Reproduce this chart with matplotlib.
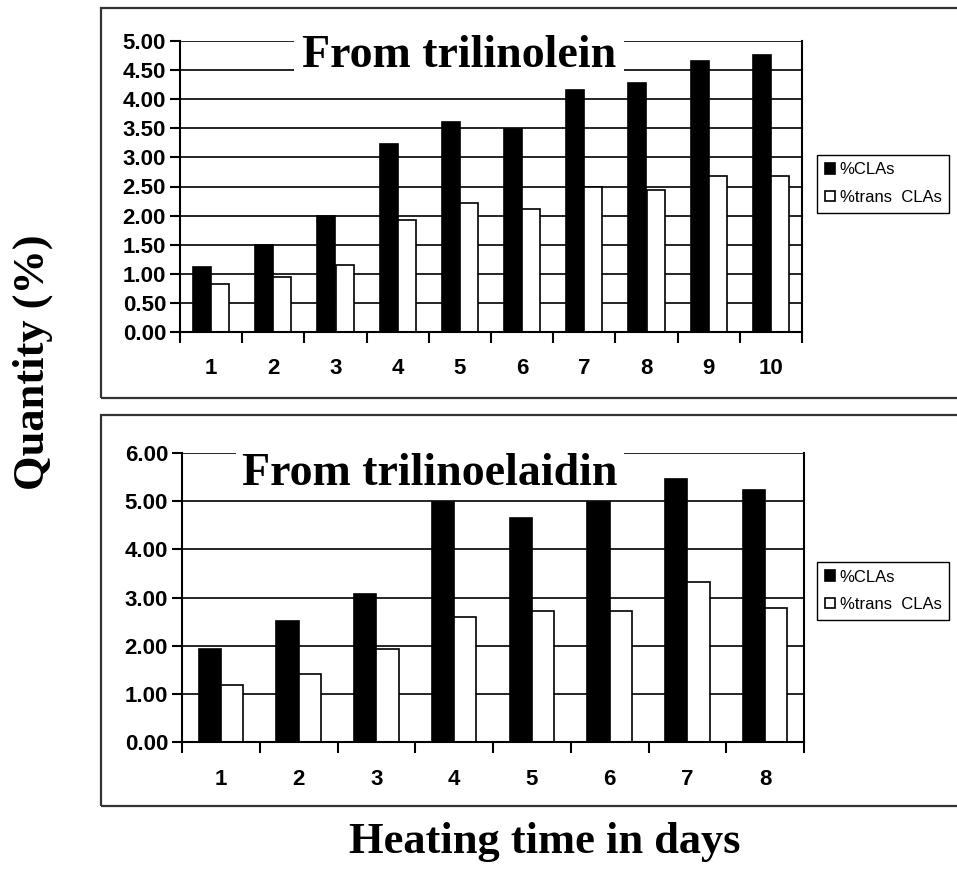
import matplotlib.pyplot as plt
from matplotlib.patches import Rectangle
from matplotlib.ticker import FixedLocator
import numpy as np

# data
days_top = [1, 2, 3, 4, 5, 6, 7, 8, 9, 10]
cla_top = [1.12, 1.50, 1.99, 3.23, 3.61, 3.48, 4.15, 4.27, 4.66, 4.76]
trans_top = [0.82, 0.95, 1.15, 1.92, 2.22, 2.12, 2.49, 2.44, 2.68, 2.68]

days_bot = [1, 2, 3, 4, 5, 6, 7, 8]
cla_bot = [1.93, 2.52, 3.07, 4.98, 4.64, 4.98, 5.45, 5.23]
trans_bot = [1.19, 1.42, 1.93, 2.59, 2.71, 2.71, 3.33, 2.78]

yticks_top = [0, 0.5, 1, 1.5, 2, 2.5, 3, 3.5, 4, 4.5, 5]
yticks_bot = [0, 1, 2, 3, 4, 5, 6]

legend_labels = ['%CLAs', '%trans  CLAs']

plt.rcParams['font.family'] = ['Liberation Sans', 'DejaVu Sans']
serif = ['Liberation Serif', 'DejaVu Serif']

fig = plt.figure(figsize=(9.57, 8.69), dpi=100)

# panel frames
for y0, h in [(1 - 398 / 869, (398 - 8) / 869), (1 - 806 / 869, (806 - 415) / 869)]:
    fig.patches.append(Rectangle((101 / 957, y0), 0.95, h, transform=fig.transFigure,
                                 fill=False, edgecolor='#333333', linewidth=1.6))


def panel(rect, days, cla, trans, yticks, title, width, off, title_box):
    ax = fig.add_axes(rect)
    ax.set_axisbelow(True)
    x = np.array(days)
    b1 = ax.bar(x - off, cla, width, color='black', edgecolor='black', linewidth=1.2, zorder=2)
    b2 = ax.bar(x + off, trans, width, color='white', edgecolor='black', linewidth=1.2, zorder=2)
    ax.set_xlim(0.5, len(days) + 0.5)
    ax.set_ylim(0, yticks[-1])
    ax.set_yticks(yticks)
    ax.set_yticklabels(['%.2f' % v for v in yticks], fontsize=16, fontweight='bold')
    ax.yaxis.grid(True, color='black', linewidth=1.2)
    ax.set_xticks(x)
    ax.set_xticklabels([str(d) for d in days], fontsize=16, fontweight='bold')
    ax.xaxis.set_minor_locator(FixedLocator(np.arange(0.5, len(days) + 1, 1)))
    ax.tick_params(axis='x', which='major', length=0, pad=19)
    ax.tick_params(axis='x', which='minor', length=8, width=1.5, direction='out')
    ax.tick_params(axis='y', length=7, width=1.5, direction='out', pad=3)
    ax.spines['top'].set_visible(False)
    for s in ['left', 'right', 'bottom']:
        ax.spines[s].set_linewidth(1.5)
    # title with white box hiding the gridlines behind it
    bx0, by0, bx1, by1 = title_box
    inv = ax.transAxes.inverted()
    p0 = inv.transform(fig.transFigure.transform((bx0 / 957, 1 - by1 / 869)))
    p1 = inv.transform(fig.transFigure.transform((bx1 / 957, 1 - by0 / 869)))
    ax.add_patch(Rectangle(p0, p1[0] - p0[0], p1[1] - p0[1], transform=ax.transAxes,
                           facecolor='white', edgecolor='none', zorder=1, clip_on=False))
    ax.text((p0[0] + p1[0]) / 2, (p0[1] + p1[1]) / 2, title, transform=ax.transAxes,
            ha='center', va='center', fontsize=33, fontweight='bold', family=serif, zorder=3)
    return ax, b1, b2


ax1, a1, a2 = panel([180 / 957, 1 - 332 / 869, 622 / 957, 291 / 869],
                    days_top, cla_top, trans_top, yticks_top, 'From trilinolein',
                    0.29, 0.146, (294, 36, 624, 76))
ax2, c1, c2 = panel([182 / 957, 1 - 742.3 / 869, 622 / 957, 289.6 / 869],
                    days_bot, cla_bot, trans_bot, yticks_bot, 'From trilinoelaidin',
                    0.285, 0.143, (236, 448, 624, 500))

for ax, h1, h2, ytop in [(ax1, a1, a2, 155), (ax2, c1, c2, 562)]:
    fig.legend([h1, h2], legend_labels, loc='upper left',
               bbox_to_anchor=(817 / 957, 1 - ytop / 869), fontsize=12,
               frameon=True, fancybox=False, edgecolor='black', framealpha=1,
               handlelength=0.6, handleheight=0.6, handletextpad=0.3,
               borderpad=0.45, labelspacing=0.75, borderaxespad=0)

fig.text(33 / 957, 1 - 362 / 869, 'Quantity (%)', rotation=90, ha='center', va='center',
         fontsize=32, fontweight='bold', family=serif)
fig.text(545 / 957, 1 - 842 / 869, 'Heating time in days', ha='center', va='center',
         fontsize=32, fontweight='bold', family=serif)

fig.savefig('out.png', dpi=100)
